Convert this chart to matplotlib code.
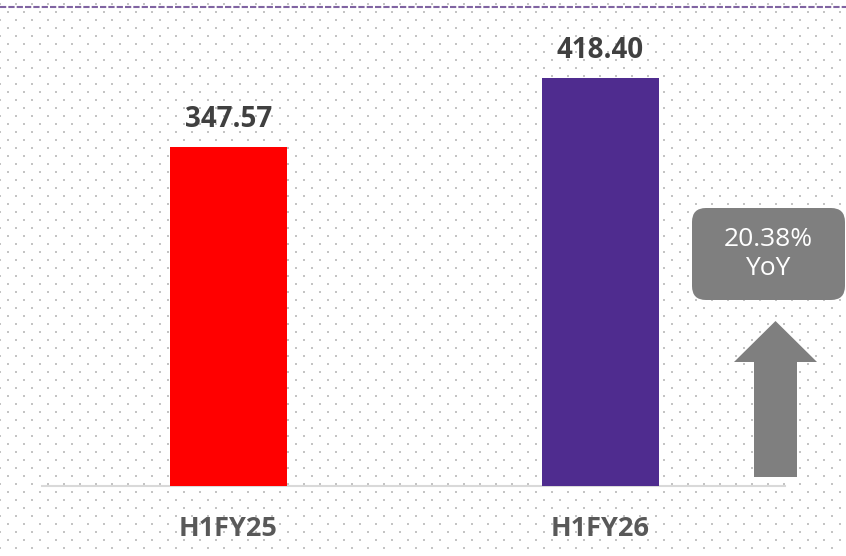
import matplotlib
matplotlib.use("Agg")
import matplotlib.pyplot as plt
import numpy as np
from matplotlib.patches import FancyBboxPatch, Polygon

# data
categories = ["H1FY25", "H1FY26"]
values = [347.57, 418.40]
bar_colors = ["#ff0000", "#4f2c8f"]
yoy_label = "20.38%\nYoY"

W, H = 846, 556
fig = plt.figure(figsize=(W / 100, H / 100), dpi=100)
fig.patch.set_facecolor("white")

# background layer in pixel coordinates (y grows downwards)
bg = fig.add_axes([0, 0, 1, 1])
bg.set_xlim(0, W)
bg.set_ylim(H, 0)
bg.axis("off")

# staggered dot pattern
xs, ys = [], []
for j, y in enumerate(np.arange(4, H, 8)):
    off = 0 if j % 2 == 0 else 8
    for x in np.arange(off, W, 16):
        xs.append(x)
        ys.append(y)
bg.scatter(xs, ys, s=1.8, marker="s", color="#c4c4c4", linewidths=0, zorder=0)

# dashed purple rule at top
bg.plot([0, W], [7, 7], color="#8064a2", lw=1.5, dashes=(3, 1), zorder=1)

# main axes for the bars
ax = fig.add_axes([0, 0, 1, 1])
ax.patch.set_alpha(0)
ax.set_xlim(-228.5 / 372, (W - 228.5) / 372)
ax.set_ylim(-70 / 0.9753, 486 / 0.9753)
ax.axis("off")

x = np.arange(len(categories))
ax.bar(x, values, width=117 / 372, color=bar_colors, zorder=3)
ax.plot([-0.502, 1.495], [0, 0], color="#d9d9d9", lw=1.5, zorder=2)

for xi, v in zip(x, values):
    ax.text(xi, v + 13, f"{v:.2f}", ha="center", va="bottom", fontsize=20,
            fontweight="bold", color="#404040", family="Open Sans")

for xi, c in zip(x, categories):
    ax.text(xi, -44, c, ha="center", va="center", fontsize=19.5,
            fontweight="bold", color="#595959", family="Open Sans")

# YoY box
box = FancyBboxPatch((692, 208), 153, 92, boxstyle="round,pad=0,rounding_size=14",
                     facecolor="#7f7f7f", edgecolor="none", zorder=4)
bg.add_patch(box)
bg.text(768, 254, yoy_label, ha="center", va="center", fontsize=19,
        color="white", family="Open Sans", linespacing=1.2, zorder=5)

# up arrow
arrow = Polygon([(754, 477), (754, 362), (734, 362), (775.5, 321),
                 (817, 362), (797, 362), (797, 477)],
                closed=True, facecolor="#7f7f7f", edgecolor="none", zorder=4)
bg.add_patch(arrow)

fig.savefig("out.png", dpi=100, facecolor="white")
